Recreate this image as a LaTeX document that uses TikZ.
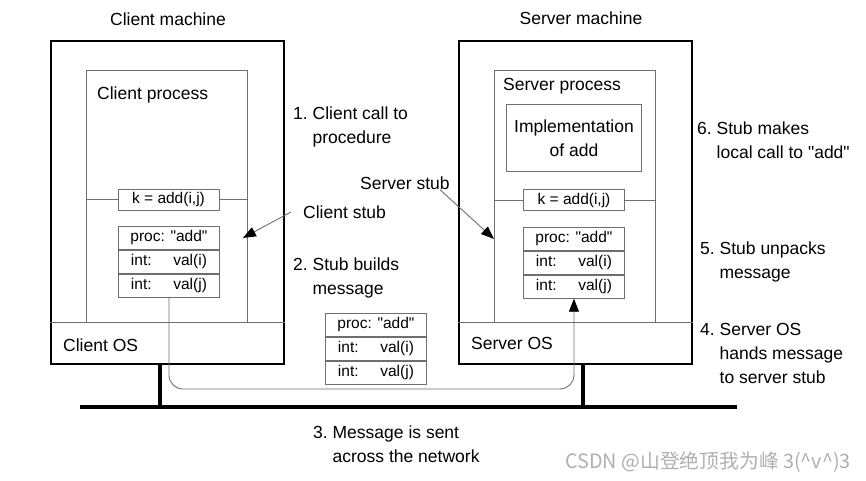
\documentclass[tikz,border=0pt]{standalone}
\usepackage{fontspec}
\setmainfont{Liberation Sans}[Ligatures=TeXOff]
\newfontfamily\cjkfont{Noto Sans CJK SC}
\usetikzlibrary{arrows.meta,positioning}
\definecolor{procgray}{RGB}{110,110,110}
\definecolor{markgray}{RGB}{175,175,175}
\newcommand\labelfont{\fontsize{17.5}{24}\selectfont}
\newcommand\cellfont{\fontsize{15.5}{18}\selectfont}

\begin{document}
\begin{tikzpicture}[x=1pt,y=1pt,yscale=-1,xscale=1,
  machine/.style={draw, line width=2pt, minimum width=233, minimum height=323, anchor=north west, inner sep=0},
  process/.style={draw=procgray, line width=0.9pt, minimum width=161, minimum height=252, anchor=north west, inner sep=0},
  cell/.style={draw=procgray, line width=0.9pt, minimum width=101, minimum height=23, inner sep=0, font=\cellfont},
  txt/.style={anchor=west, align=left, inner sep=0, font=\labelfont},
  thin/.style={draw=procgray, line width=0.9pt},
  pointer/.style={draw=procgray, line width=0.9pt, -{Triangle[length=13pt,width=10pt,color=black]}},
  wire/.style={line width=3.5pt}]
\useasboundingbox (0,0) rectangle (866,481);

%Machines
\node[machine] (cm) at (50,40) {};
\node[machine] (sm) at (458,40) {};
\node[font=\labelfont] (cmt) at (168,19) {Client machine};
\node[font=\labelfont] (smt) at (581,18) {Server machine};

%Processes
\node[process] (cp) at (86,70) {};
\node[process] (sp) at (494,70) {};
\node[txt] (cpt) at (97,95) {Client process};
\node[txt] (spt) at (503,86) {Server process};

%OS separators
\draw[thin] (cm.west |- cp.south) -- (cm.east |- cp.south);
\draw[thin] (sm.west |- sp.south) -- (sm.east |- sp.south);
\node[txt] (cos) at (63,345) {Client OS};
\node[txt] (sos) at (471,343) {Server OS};

%Implementation
\node[draw=procgray, line width=0.9pt, minimum width=135, minimum height=67, anchor=north west, align=center, font=\labelfont] (impl) at (506,104) {Implementation\\of add};

%Stub calls
\node[cell, minimum height=21] (ck) at (168.5,199.5) {k = add(i,j)};
\node[cell, minimum height=21] (sk) at (574,200) {k = add(i,j)};
\draw[thin] (cp.west |- ck) -- (ck.west);
\draw[thin] (ck.east) -- (cp.east |- ck);
\draw[thin] (sp.west |- sk) -- (sk.west);
\draw[thin] (sk.east) -- (sp.east |- sk);

%Messages
\node[cell, anchor=north west] (cv1) at (118,226) {proc: "add"};
\node[cell, below=0pt of cv1] (cv2) {\makebox[76pt]{int:\hfill val(i)}};
\node[cell, below=0pt of cv2] (cv3) {\makebox[76pt]{int:\hfill val(j)}};
\node[cell, anchor=north west] (mv1) at (325,313) {proc: "add"};
\node[cell, below=0pt of mv1] (mv2) {\makebox[76pt]{int:\hfill val(i)}};
\node[cell, below=0pt of mv2] (mv3) {\makebox[76pt]{int:\hfill val(j)}};
\node[cell, anchor=north west] (sv1) at (523,227) {proc: "add"};
\node[cell, below=0pt of sv1] (sv2) {\makebox[76pt]{int:\hfill val(i)}};
\node[cell, below=0pt of sv2] (sv3) {\makebox[76pt]{int:\hfill val(j)}};

%Network
\coordinate (netL) at (80,407);
\coordinate (netR) at (737,407);
\coordinate (ctap) at (160,407);
\coordinate (stap) at (583,407);
\draw[wire] (netL) -- (netR);
\draw[wire] (ctap |- cm.south) -- (ctap);
\draw[wire] (stap |- sm.south) -- (stap);

%Message path
\coordinate (msgturn) at (370,389);
\draw[pointer, rounded corners=14] (cv3.south) |- (msgturn) -| (sv3.south);

% Text Node
\node[txt] (l1) at (293,126.5) {1.~Client call to\\\phantom{1.~}procedure};
\node[txt] (cstub) at (303,212) {Client stub};
\node[txt] (sstub) at (360,183) {Server stub};
\node[txt] (l2) at (293,277.5) {2.~Stub builds\\\phantom{2.~}message};
\node[txt] (l3) at (313,444.5) {3.~Message is sent\\\phantom{3.~}across the network};
\node[txt] (l4) at (700,353) {4.~Server OS\\\phantom{4.~}hands message\\\phantom{4.~}to server stub};
\node[txt] (l5) at (700,261.5) {5.~Stub unpacks\\\phantom{5.~}message};
\node[txt] (l6) at (697,140) {6.~Stub makes\\\phantom{6.~}local call to "add"};

%Stub pointers
\draw[pointer] ([xshift=-12pt]cstub.west) -- ([xshift=-5pt]cp.east |- cv1);
\draw[pointer] ([xshift=-10pt]sstub.south east) -- (sp.west |- sv1);

% Watermark
\node[anchor=west, inner sep=0, text=markgray, font=\cjkfont\fontsize{19.8}{21}\selectfont] (mark) at (565,462) {CSDN @山登绝顶我为峰 3(\textasciicircum{}v\textasciicircum{})3};

\end{tikzpicture}
\end{document}
